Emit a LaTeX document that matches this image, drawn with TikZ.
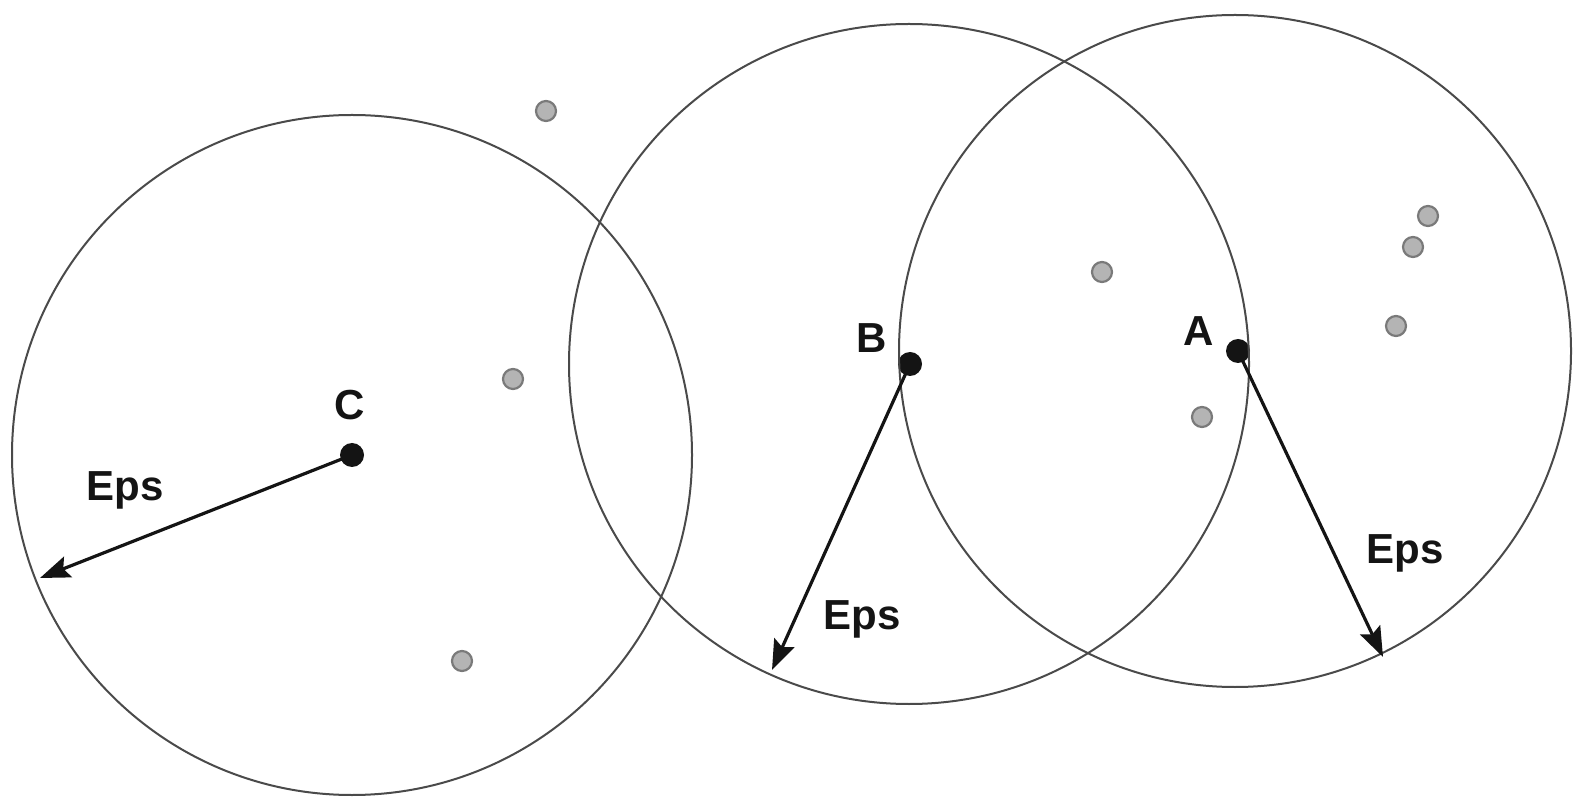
\documentclass[tikz,border=0pt]{standalone}
\usepackage{fontspec}
\setmainfont{Liberation Sans}
\usepackage{xcolor}
\usetikzlibrary{arrows.meta,positioning,calc}
\definecolor{rim}{HTML}{4A4A4A}
\definecolor{noisefill}{HTML}{B4B4B4}
\definecolor{noisedraw}{HTML}{7A7A7A}
\definecolor{ink}{HTML}{141414}

\begin{document}
\begin{tikzpicture}[
  x=0.5pt, y=-0.5pt,
  core/.style={circle, fill=ink, inner sep=0pt, minimum size=12pt},
  noise/.style={circle, fill=noisefill, draw=noisedraw, line width=1.1pt, inner sep=0pt, minimum size=10pt},
  reach/.style={draw=rim, line width=1pt},
  radius arrow/.style={-{Stealth[length=15pt,width=11pt,inset=2.5pt]}, line width=1.6pt, draw=ink},
  tag/.style={font=\bfseries\fontsize{21}{24}\selectfont, text=ink, inner sep=0pt}
]
\useasboundingbox (0,0) rectangle (1573,806);

% core points
\node[core] (C) at (352,455) {};
\node[core] (B) at (910,364) {};
\node[core] (A) at (1238,351) {};

% eps neighbourhoods
\draw[reach] (352,455) circle (170pt);
\draw[reach] (909,364) circle (170pt);
\draw[reach] (1235,351) circle (168pt);

% other points
\node[noise] (p1) at (546,111) {};
\node[noise] (p2) at (513,379) {};
\node[noise] (p3) at (462,661) {};
\node[noise] (p4) at (1102,272) {};
\node[noise] (p5) at (1202,417) {};
\node[noise] (p6) at (1428,216) {};
\node[noise] (p7) at (1413,247) {};
\node[noise] (p8) at (1396,326) {};

% radius ends
\coordinate (rimC) at (40,578);
\coordinate (rimB) at (772,670);
\coordinate (rimA) at (1383,657);

\draw[radius arrow] (C.center) -- (rimC);
\draw[radius arrow] (B.center) -- (rimB);
\draw[radius arrow] (A.center) -- (rimA);

% labels
\node[tag] (labC) at (350,405) {C};
\node[tag] (labB) at (872,338) {B};
\node[tag] (labA) at (1199,331) {A};
\node[tag] (epsC) at (125,490) {Eps};
\node[tag] (epsB) at (862,619) {Eps};
\node[tag] (epsA) at (1405,553) {Eps};
\end{tikzpicture}
\end{document}
